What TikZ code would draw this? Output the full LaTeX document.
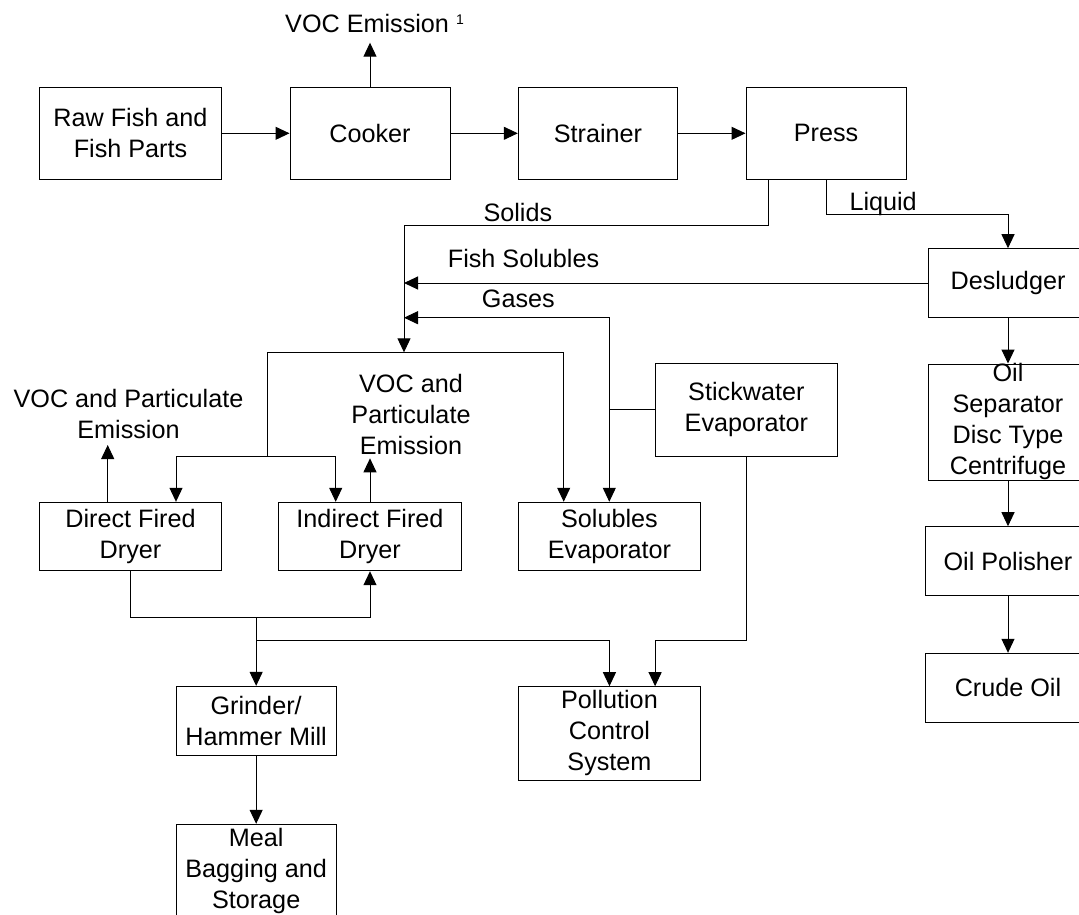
\documentclass[tikz,border=0pt]{standalone}
\usepackage{fontspec}
\setmainfont{Liberation Sans}
\usetikzlibrary{arrows.meta,calc}
\newcommand\diagfont{\fontsize{25.2pt}{31pt}\selectfont}
\begin{document}
\begin{tikzpicture}[x=1pt,y=-1pt,
  box/.style={draw,line width=1pt,inner sep=0pt,align=center,font=\diagfont},
  lbl/.style={inner sep=0pt,align=center,font=\diagfont},
  arr/.style={-{Triangle[length=14pt,width=13pt]},line width=1pt},
  conn/.style={line width=1pt}]
\useasboundingbox (0,0) rectangle (1079,914);
\clip (0,0) rectangle (1079,914);

% process boxes
\node[box,minimum width=182.4pt,minimum height=92pt] (raw) at (130.5,133.3) {Raw Fish and\\Fish Parts};
\node[box,minimum width=160pt,minimum height=92pt] (cooker) at (370,133.3) {Cooker};
\node[box,minimum width=159.4pt,minimum height=92pt] (strainer) at (598,133.3) {Strainer};
\node[box,minimum width=160pt,minimum height=92pt] (press) at (826,133.3) {Press};
\node[box,minimum width=159.3pt,minimum height=68.6pt] (desludger) at (1008,283) {Desludger};
\node[box,minimum width=160pt,minimum height=116pt] (oilsep) at (1008,422) {};
\node[lbl] (oilseptext) at (1008,421) {Oil\\Separator\\Disc Type\\Centrifuge};
\node[box,minimum width=166pt,minimum height=69pt] (polisher) at (1008,561.2) {Oil Polisher};
\node[box,minimum width=166pt,minimum height=69pt] (crude) at (1008,687.8) {Crude Oil};
\node[box,minimum width=182.4pt,minimum height=68.4pt] (direct) at (130.5,536.5) {Direct Fired\\Dryer};
\node[box,minimum width=183.4pt,minimum height=68.4pt] (indirect) at (370,536.5) {Indirect Fired\\Dryer};
\node[box,minimum width=182.4pt,minimum height=68.7pt] (solevap) at (609.5,536.6) {Solubles\\Evaporator};
\node[box,minimum width=182.7pt,minimum height=92.3pt] (stick) at (746.35,409.85) {Stickwater\\Evaporator};
\node[box,minimum width=160.3pt,minimum height=69.3pt] (grinder) at (256.15,721) {Grinder/\\Hammer Mill};
\node[box,minimum width=160.3pt,minimum height=93.3pt] (meal) at (256.15,870.95) {Meal\\Bagging and\\Storage};
\node[box,minimum width=182.1pt,minimum height=93.3pt] (pollution) at (609.45,733.35) {Pollution\\Control\\System};

% stream labels
\node[lbl,anchor=base west] (vocone) at (285,32.3) {VOC Emission {\fontsize{14pt}{14pt}\selectfont\raisebox{7.5pt}{1}}};
\node[lbl,anchor=south] (vocleft) at (128.5,439.3) {VOC and Particulate\\Emission};
\node[lbl,anchor=south] (vocmid) at (411,455) {VOC and\\Particulate\\Emission};
\node[lbl,anchor=base west] (solidslbl) at (483.3,221.7) {Solids};
\node[lbl,anchor=base west] (fishsollbl) at (447.7,267.3) {Fish Solubles};
\node[lbl,anchor=base west] (gaseslbl) at (481.7,307.3) {Gases};
\node[lbl,anchor=base west] (liquidlbl) at (849.3,210) {Liquid};

% bend and junction points
\coordinate (voctip) at (370,42.7);
\coordinate (solbend) at (404,225.3);
\coordinate (hub) at (404,352.3);
\coordinate (lqbend) at (1008,214);
\coordinate (gtop) at (609.3,317.7);
\coordinate (gsplit) at (609.3,409.85);
\coordinate (dl) at (267.7,352.3);
\coordinate (dr) at (563.7,352.3);
\coordinate (dsplit) at (267.7,456);
\coordinate (dA) at (176,456);
\coordinate (dB) at (335.7,456);
\coordinate (vocL) at (107.7,445);
\coordinate (vocM) at (370,458.3);
\coordinate (msplit) at (256.15,617.3);
\coordinate (pj) at (256.15,640.3);
\coordinate (sj) at (655.1,640.3);

% main line
\draw[arr] (raw.east) -- (cooker.west);
\draw[arr] (cooker.east) -- (strainer.west);
\draw[arr] (strainer.east) -- (press.west);
\draw[arr] (cooker.north) -- (voctip);

% press outputs
\draw[arr] ([xshift=23pt]press.south west) |- (solbend) -- (hub);
\draw[arr] (press.south) |- (lqbend) -- (desludger.north);
\draw[arr] (desludger.west) -- (desludger.west -| hub);

% stickwater gases and solubles
\draw[conn] (stick.west) -- (gsplit);
\draw[arr] (gsplit) -- (gtop) -- (gtop -| hub);
\draw[arr] (gsplit) -- (gsplit |- solevap.north);

% distribution to dryers and solubles evaporator
\draw[arr] (dl) -- (dr) -- (dr |- solevap.north);
\draw[conn] (dl) -- (dsplit);
\draw[arr] (dsplit) -- (dA) -- (dA |- direct.north);
\draw[arr] (dsplit) -- (dB) -- (dB |- indirect.north);
\draw[arr] (vocL |- direct.north) -- (vocL);
\draw[arr] (indirect.north) -- (vocM);

% dryer outputs
\draw[arr] (direct.south) |- (msplit) -| (indirect.south);
\draw[arr] (msplit) -- (grinder.north);
\draw[arr] (pj) -| (pollution.north);
\draw[arr] (stick.south) |- (sj) -- (sj |- pollution.north);
\draw[arr] (grinder.south) -- (meal.north);

% oil line
\draw[arr] (desludger.south) -- (oilsep.north);
\draw[arr] (oilsep.south) -- (polisher.north);
\draw[arr] (polisher.south) -- (crude.north);
\end{tikzpicture}
\end{document}
